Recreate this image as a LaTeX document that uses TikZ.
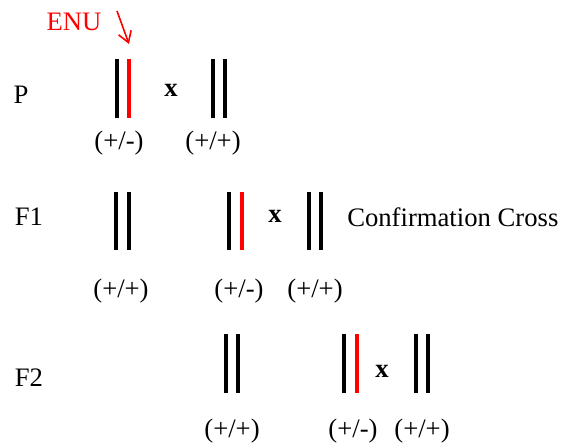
\documentclass[tikz,border=0pt]{standalone}
\usepackage{fontspec}
\setmainfont{Liberation Serif}
\usetikzlibrary{arrows.meta}

\begin{document}
\begin{tikzpicture}[x=0.75pt,y=0.75pt,yscale=-1,xscale=1,
    chrom/.style={line width=3pt},
    mut/.style={line width=3pt,color=red},
    lbl/.style={inner sep=0.75pt,font=\fontsize{20}{24}\selectfont},
    cross/.style={inner sep=0.75pt,font=\fontsize{20}{24}\selectfont\bfseries}]
\useasboundingbox (0,0) rectangle (561,444);

% Generation labels
\draw (21,95) node [lbl] (genP) {P};
\draw (29,217) node [lbl] (genF1) {F1};
\draw (29,378) node [lbl] (genF2) {F2};

%Straight Lines: P parents
\draw [chrom] (117,59) -- (117,118);
\draw [mut] (129,59) -- (129,118);
\draw [chrom] (213,59) -- (213,118);
\draw [chrom] (225,59) -- (225,118);

%Straight Lines: F1
\draw [chrom] (116,192) -- (116,250);
\draw [chrom] (129,192) -- (129,250);
\draw [chrom] (229,192) -- (229,250);
\draw [mut] (242,192) -- (242,250);
\draw [chrom] (309,192) -- (309,250);
\draw [chrom] (321,192) -- (321,250);

%Straight Lines: F2
\draw [chrom] (226,334) -- (226,393);
\draw [chrom] (238,334) -- (238,393);
\draw [chrom] (344,334) -- (344,393);
\draw [mut] (357,334) -- (357,393);
\draw [chrom] (416,334) -- (416,393);
\draw [chrom] (428,334) -- (428,393);

% Mutagen arrow
\draw (74,22) node [lbl,text=red] (enu) {ENU};
\coordinate (enuTail) at (117,11);
\coordinate (enuTip) at (129,44);
\draw [red,line width=1.2pt,-{Straight Barb[length=8pt,width=10pt]}] (enuTail) -- (enuTip);

% Crosses
\draw (171,90) node [cross] (xP) {x};
\draw (275,216) node [cross] (xF1) {x};
\draw (382,371) node [cross] (xF2) {x};
\draw (346,217) node [lbl,anchor=west] (conf) {Confirmation Cross};

% Genotypes
\draw (119,143) node [lbl] (gP1) {(+/-)};
\draw (213,143) node [lbl] (gP2) {(+/+)};
\draw (121,291) node [lbl] (gF11) {(+/+)};
\draw (239,291) node [lbl] (gF12) {(+/-)};
\draw (315,291) node [lbl] (gF13) {(+/+)};
\draw (232,431) node [lbl] (gF21) {(+/+)};
\draw (353,431) node [lbl] (gF22) {(+/-)};
\draw (422,431) node [lbl] (gF23) {(+/+)};

\end{tikzpicture}
\end{document}
